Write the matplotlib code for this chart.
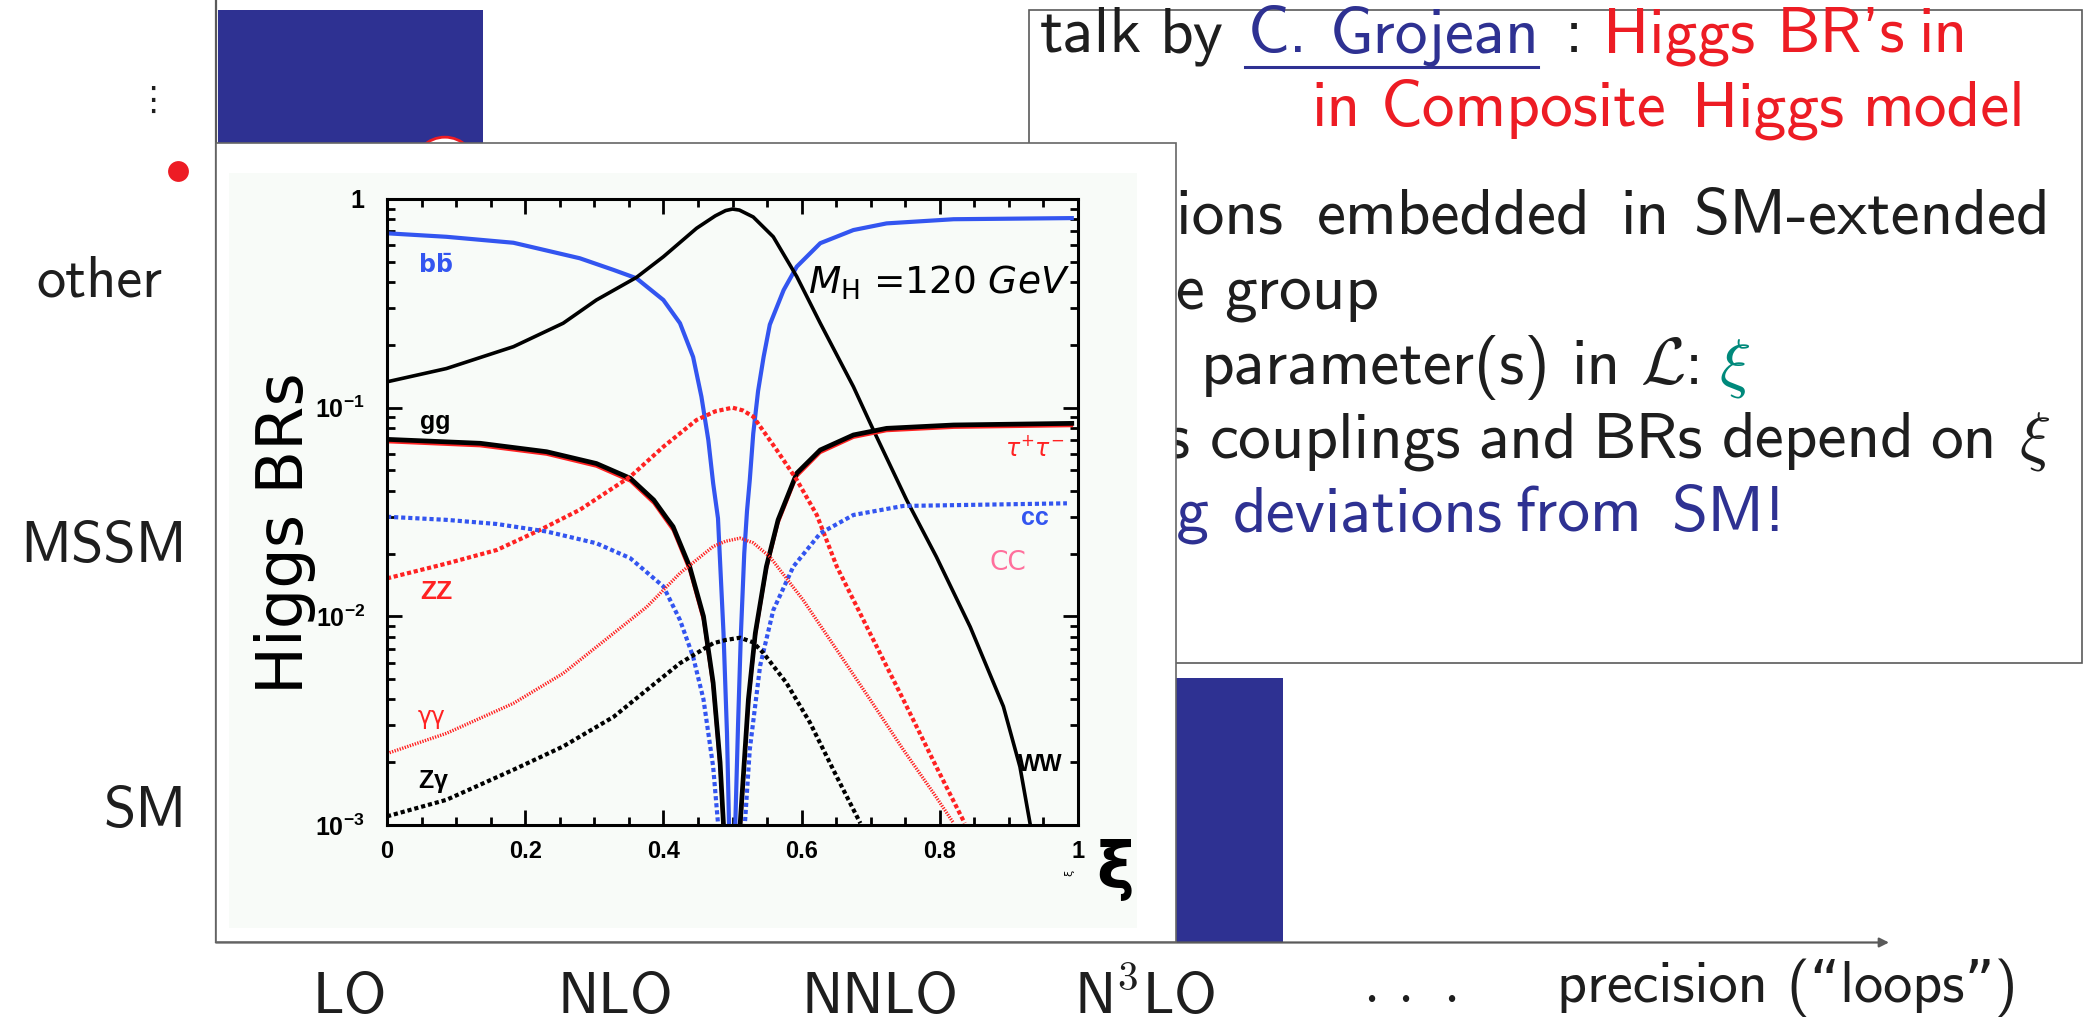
import matplotlib
matplotlib.use("Agg")
import matplotlib.pyplot as plt
from matplotlib.patches import Rectangle, Circle
from matplotlib.lines import Line2D

# ---------------- data ----------------
precision_orders = ["LO", "NLO", "NNLO", r"N$^{\mathsf{3}}$LO", r"$\cdot\,\cdot\,\cdot$"]
models = ["SM", "MSSM", "other"]

# covered regions of the (precision, model) plane, in category units
block_x0 = [-0.5, 2.5]
block_x1 = [0.5, 3.52]
block_y0 = [2.2, -0.5]
block_y1 = [3.02, 0.5]

# Higgs branching ratios vs xi (M_H = 120 GeV)
bb_xi = [0, 0.086, 0.183, 0.279, 0.328, 0.361, 0.40, 0.424, 0.443, 0.455, 0.465, 0.472,
         0.479, 0.487, 0.492, 0.495, 0.4995, 0.504, 0.508, 0.512, 0.517, 0.521, 0.525,
         0.530, 0.537, 0.545, 0.554, 0.574, 0.593, 0.627, 0.675, 0.723, 0.82, 0.991]
bb_br = [0.685, 0.659, 0.617, 0.52, 0.457, 0.417, 0.328, 0.254, 0.175, 0.113, 0.070, 0.0434,
         0.0295, 0.0083, 0.00276, 0.001, 0.0003, 0.001, 0.003, 0.008, 0.02, 0.032, 0.045,
         0.075, 0.12, 0.175, 0.25, 0.366, 0.474, 0.614, 0.71, 0.764, 0.80, 0.81]

ww_xi = [0, 0.086, 0.183, 0.255, 0.303, 0.361, 0.40, 0.448, 0.475, 0.49, 0.5, 0.51, 0.53,
         0.559, 0.593, 0.627, 0.675, 0.704, 0.752, 0.795, 0.844, 0.892, 0.916, 0.931]
ww_br = [0.133, 0.154, 0.196, 0.254, 0.328, 0.421, 0.529, 0.724, 0.83, 0.88, 0.895, 0.885,
         0.82, 0.659, 0.425, 0.254, 0.126, 0.078, 0.0361, 0.0193, 0.0089, 0.0037, 0.0019,
         0.001]

gg_xi = [0, 0.135, 0.231, 0.303, 0.352, 0.386, 0.405, 0.414, 0.438, 0.458, 0.472, 0.482, 0.487,
         0.4995, 0.511, 0.523, 0.533, 0.549, 0.566, 0.593, 0.627, 0.675, 0.723, 0.82, 0.991]
gg_br = [0.0705, 0.0675, 0.0615, 0.054, 0.0459, 0.0361, 0.0295, 0.0269, 0.0173, 0.010, 0.0048,
         0.0020, 0.001, 0.0002, 0.001, 0.0040, 0.0083, 0.0173, 0.029, 0.0485, 0.0627, 0.074,
         0.0796, 0.0826, 0.0841]
tt_br = [0.0685, 0.0655, 0.0597, 0.0523, 0.0444, 0.0348, 0.0284, 0.0258, 0.0165, 0.0095, 0.0045,
         0.0018, 0.0009, 0.0002, 0.0009, 0.0037, 0.0079, 0.0166, 0.0279, 0.0468, 0.0608, 0.0719,
         0.0774, 0.0803, 0.0818]

zz_xi = [0, 0.086, 0.159, 0.221, 0.279, 0.352, 0.40, 0.448, 0.475, 0.5, 0.515, 0.53, 0.564,
         0.593, 0.622, 0.651, 0.699, 0.747, 0.795, 0.836]
zz_br = [0.0152, 0.0179, 0.0208, 0.0259, 0.0324, 0.0467, 0.065, 0.0873, 0.096, 0.100, 0.097,
         0.0906, 0.0627, 0.0451, 0.0306, 0.0173, 0.0083, 0.0040, 0.0019, 0.00102]

cc_xi = [0, 0.086, 0.159, 0.231, 0.303, 0.352, 0.40, 0.424, 0.443, 0.458, 0.472, 0.479, 0.4995,
         0.518, 0.525, 0.54, 0.559, 0.588, 0.627, 0.675, 0.747, 0.984]
cc_br = [0.030, 0.029, 0.0277, 0.0255, 0.0224, 0.019, 0.0139, 0.0096, 0.0064, 0.0040, 0.0019,
         0.00102, 0.0002, 0.00102, 0.0023, 0.0058, 0.0107, 0.0173, 0.025, 0.0306, 0.0338, 0.0348]

aa_xi = [0, 0.086, 0.183, 0.255, 0.328, 0.376, 0.424, 0.472, 0.49, 0.511, 0.53, 0.554, 0.602,
         0.651, 0.699, 0.747, 0.791, 0.82]
aa_br = [0.0022, 0.00275, 0.00383, 0.00533, 0.0083, 0.0111, 0.0161, 0.0216, 0.0229, 0.0237,
         0.0225, 0.0193, 0.012, 0.0069, 0.0040, 0.0023, 0.00142, 0.00102]

za_xi = [0, 0.086, 0.183, 0.255, 0.328, 0.376, 0.424, 0.472, 0.49, 0.511, 0.53, 0.545, 0.578,
         0.612, 0.651, 0.685]
za_br = [0.0011, 0.00132, 0.00184, 0.00238, 0.0033, 0.00444, 0.00596, 0.00743, 0.0077, 0.0079,
         0.0075, 0.00665, 0.0048, 0.0031, 0.0017, 0.00102]

xi_ticks = [0, 0.2, 0.4, 0.6, 0.8, 1.0]
xi_tick_labels = ["0", "0.2", "0.4", "0.6", "0.8", "1"]
br_ticks = [1e-3, 1e-2, 1e-1, 1]
br_tick_labels = [r"$\mathbf{10^{-3}}$", r"$\mathbf{10^{-2}}$", r"$\mathbf{10^{-1}}$", "1"]

# ---------------- style ----------------
W, H, DPI = 2089, 1024, 100
SLIDE_FONT = ["cmss10", "DejaVu Sans"]
BLUE_BOX = "#2e3192"
RED = "#ed1c24"
INK = "#1e1e1e"
AXIS_GREY = "#5a5a5a"
PALE = "#f8fbf8"
OUTER_SIZE = 42
BOX_SIZE = 47

plt.rcParams["mathtext.fontset"] = "cm"
plt.rcParams["mathtext.rm"] = "Liberation Sans:bold"
plt.rcParams["mathtext.bf"] = "Liberation Sans:bold"
plt.rcParams["mathtext.it"] = "Liberation Sans:bold:italic"
plt.rcParams["mathtext.sf"] = "Liberation Sans:bold"


def fx(px):
    return px / W


def fy(py):
    return 1 - py / H


fig = plt.figure(figsize=(W / DPI, H / DPI), dpi=DPI)
fig.patch.set_facecolor("white")

# ---------------- outer "model vs precision" plane ----------------
CELL, X0PX, Y0PX = 265.0, 350.0, 810.0
ax = fig.add_axes([0, 0, 1, 1], zorder=0)
ax.set_xlim((0 - X0PX) / CELL, (W - X0PX) / CELL)
ax.set_ylim((Y0PX - H) / CELL, Y0PX / CELL)
ax.axis("off")


def dx(px):
    return (px - X0PX) / CELL


def dy(py):
    return (Y0PX - py) / CELL


for x0, x1, y0, y1 in zip(block_x0, block_x1, block_y0, block_y1):
    ax.add_patch(Rectangle((x0, y0), x1 - x0, y1 - y0, facecolor=BLUE_BOX,
                           edgecolor="none", zorder=1))
ax.add_patch(Circle((0.358, 2.42), 0.119, facecolor="white", edgecolor=RED, lw=2, zorder=2))

axis_x = dx(216)
ax.plot([axis_x, axis_x], [-0.5, dy(0) + 0.05], color=AXIS_GREY, lw=1.6, zorder=3,
        solid_capstyle="butt")
ax.annotate("", xy=(dx(1889), -0.5), xytext=(axis_x, -0.5),
            arrowprops=dict(arrowstyle="-|>", color=AXIS_GREY, lw=1.6,
                            mutation_scale=14, shrinkA=0, shrinkB=0), zorder=3)

for i, lab in enumerate(precision_orders):
    if lab.startswith(r"$\cdot"):
        ax.text(i, dy(997), lab, ha="center", va="center", fontsize=OUTER_SIZE,
                color=INK, family=SLIDE_FONT)
    else:
        ax.text(i, dy(1013), lab, ha="center", va="baseline", fontsize=OUTER_SIZE,
                color=INK, family=SLIDE_FONT)
ax.text(dx(1557), dy(1002), "precision (\u201cloops\u201d)", ha="left", va="baseline",
        fontsize=OUTER_SIZE, color=INK, family=SLIDE_FONT)

model_right = [187, 187, 162]
for j, (lab, rx) in enumerate(zip(models, model_right)):
    ax.annotate(lab, (dx(rx), j), xytext=(0, -12), textcoords="offset points",
                ha="right", va="baseline", fontsize=OUTER_SIZE, color=INK, family=SLIDE_FONT)
ax.plot([dx(178)], [dy(171)], "o", ms=15, color=RED, mec="none", zorder=3)
ax.text(dx(153), dy(100), "\u22ee", ha="center", va="center", fontsize=24,
        color=INK, family="DejaVu Sans")

# ---------------- talk box ----------------
fig.patches.append(Rectangle((fx(1029), fy(663)), fx(2082) - fx(1029), fy(10) - fy(663),
                             transform=fig.transFigure, facecolor="white",
                             edgecolor=AXIS_GREY, lw=1.2, zorder=2))

COL = {"k": INK, "b": BLUE_BOX, "r": RED, "g": "#00897b"}
talk_lines = [
    (52, [("talk", 1040, "k", "left"), ("by", 1160, "k", "left"),
          ("C.", 1248, "b", "left"), ("Grojean", 1330, "b", "left"),
          (":", 1565, "k", "left"), ("Higgs", 1603, "r", "left"),
          ("BR's", 1776.7, "r", "left"), ("in", 1918.5, "r", "left")]),
    (126, [("in", 1311.7, "r", "left"), ("Composite", 1381, "r", "left"),
           ("Higgs", 1691.5, "r", "left"), ("model", 1863, "r", "left")]),
    (234, [("representations", 1284, "k", "right"), ("embedded", 1316.5, "k", "left"),
           ("in", 1620, "k", "left"), ("SM-extended", 1693.5, "k", "left")]),
    (308, [("large", 1206, "k", "right"), ("group", 1224.5, "k", "left")]),
    (384, [("parameter(s)", 1200.6, "k", "left"),
           ("in", 1571, "k", "left"), (r"$\mathcal{L}$:", 1640, "k", "left"),
           (r"$\xi$", 1719, "g", "left")]),
    (457.5, [("its", 1190, "k", "right"), ("couplings", 1209.5, "k", "left"),
             ("and", 1478, "k", "left"), ("BRs", 1592.6, "k", "left"),
             ("depend", 1722, "k", "left"), ("on", 1930, "k", "left"),
             (r"$\xi$", 2018.6, "k", "left")]),
    (531, [("big", 1210, "b", "right"), ("deviations", 1232.7, "b", "left"),
           ("from", 1515, "b", "left"), ("SM!", 1671, "b", "left")]),
]
for base, words in talk_lines:
    for word, x, c, ha in words:
        fig.text(fx(x), fy(base), word, ha=ha, va="baseline", fontsize=BOX_SIZE,
                 color=COL[c], family=SLIDE_FONT, zorder=3)
fig.lines.append(Line2D([fx(1245), fx(1538)], [fy(67), fy(67)], transform=fig.transFigure,
                        color=BLUE_BOX, lw=2.2, zorder=3))

# ---------------- inset with the branching-ratio plot ----------------
fig.patches.append(Rectangle((fx(216), fy(942)), fx(1176) - fx(216), fy(143) - fy(942),
                             transform=fig.transFigure, facecolor="white",
                             edgecolor="#666666", lw=1.2, zorder=8))
fig.patches.append(Rectangle((fx(229), fy(928)), fx(1137) - fx(229), fy(173) - fy(928),
                             transform=fig.transFigure, facecolor=PALE,
                             edgecolor="none", zorder=8.5))

axb = fig.add_axes([fx(387), fy(825), fx(1078) - fx(387), fy(199) - fy(825)], zorder=10)
axb.set_facecolor(PALE)
axb.set_xlim(0, 1)
axb.set_yscale("log")
axb.set_ylim(1e-3, 1)

BLUE_LINE = "#3355f0"
RED_LINE = "#ff2222"
axb.plot(bb_xi, bb_br, color=BLUE_LINE, lw=3.0)
axb.plot(ww_xi, ww_br, color="black", lw=2.6)
axb.plot(gg_xi, tt_br, color=RED_LINE, lw=2.0)
axb.plot(gg_xi, gg_br, color="black", lw=3.4)
axb.plot(zz_xi, zz_br, color=RED_LINE, lw=3.0, dashes=(1.0, 0.65))
axb.plot(cc_xi, cc_br, color=BLUE_LINE, lw=3.0, dashes=(1.0, 0.7))
axb.plot(za_xi, za_br, color="black", lw=3.0, dashes=(1.0, 0.7))
axb.plot(aa_xi, aa_br, color=RED_LINE, lw=2.4, dashes=(0.4, 0.4))

for sp in axb.spines.values():
    sp.set_linewidth(2.2)
axb.set_xticks(xi_ticks, labels=xi_tick_labels)
axb.set_xticks([k * 0.05 for k in range(21)], minor=True)
axb.set_yticks(br_ticks, labels=br_tick_labels)
axb.set_yticks([m * 10.0 ** e for e in (-3, -2, -1) for m in range(2, 10)], minor=True)
axb.yaxis.set_minor_formatter(plt.NullFormatter())
axb.tick_params(which="both", direction="in", top=True, right=True, width=2)
axb.tick_params(which="major", length=11)
axb.tick_params(which="minor", length=6)
axb.tick_params(axis="y", pad=16)
axb.tick_params(axis="x", pad=11)
for lbl in axb.get_xticklabels():
    lbl.set_fontfamily("Liberation Sans")
    lbl.set_fontweight("bold")
    lbl.set_fontsize(17)
for lbl in axb.get_yticklabels():
    lbl.set_fontfamily("Liberation Sans")
    lbl.set_fontweight("bold")
    lbl.set_fontsize(18)
    lbl.set_math_fontfamily("custom")

axb.set_ylabel("Higgs BRs", fontsize=46, family="DejaVu Sans")
axb.yaxis.set_label_coords(-0.1027, 0.466)

LAB = dict(transform=axb.transAxes, ha="center", va="center", clip_on=False)
axb.text(0.0709, 0.8946, "bb\u0304", color=BLUE_LINE, fontsize=17, weight="bold",
         family="DejaVu Sans", **LAB)
axb.text(0.0695, 0.6438, "gg", color="black", fontsize=18, weight="bold",
         family="Liberation Sans", **LAB)
axb.text(0.0709, 0.3722, "ZZ", color=RED_LINE, fontsize=19, weight="bold",
         family="Liberation Sans", **LAB)
axb.text(0.0651, 0.1725, "\u03b3\u03b3", color=RED_LINE, fontsize=17,
         family="DejaVu Sans", **LAB)
axb.text(0.068, 0.0687, r"Z$\mathregular{\gamma}$", color="black", fontsize=18,
         weight="bold", family="Liberation Sans", math_fontfamily="dejavusans", **LAB)
axb.text(0.9378, 0.6022, r"$\tau^{+}\tau^{-}$", color=RED_LINE, fontsize=17,
         math_fontfamily="dejavusans", **LAB)
axb.text(0.9378, 0.4904, "cc", color=BLUE_LINE, fontsize=18, weight="bold",
         family="Liberation Sans", **LAB)
axb.text(0.8987, 0.4185, "CC", color="#ff6f9c", fontsize=19, family="DejaVu Sans", **LAB)
axb.text(0.9450, 0.0974, "WW", color="black", fontsize=17, weight="bold",
         family="Liberation Sans", **LAB)
axb.text(0.6093, 0.8658, r"$M_{\mathrm{H}}$ =120 $GeV$", color="black", fontsize=27,
         family="DejaVu Sans", math_fontfamily="dejavusans", transform=axb.transAxes,
         ha="left", va="center")
axb.text(1.054, -0.072, "\u03be", fontsize=46, weight="bold", family="DejaVu Sans",
         transform=axb.transAxes, ha="center", va="center", clip_on=False)
axb.text(0.988, -0.077, "\u03be", fontsize=8, rotation=90, family="DejaVu Sans",
         transform=axb.transAxes, ha="center", va="center", clip_on=False)

fig.savefig("out.png", dpi=DPI)
